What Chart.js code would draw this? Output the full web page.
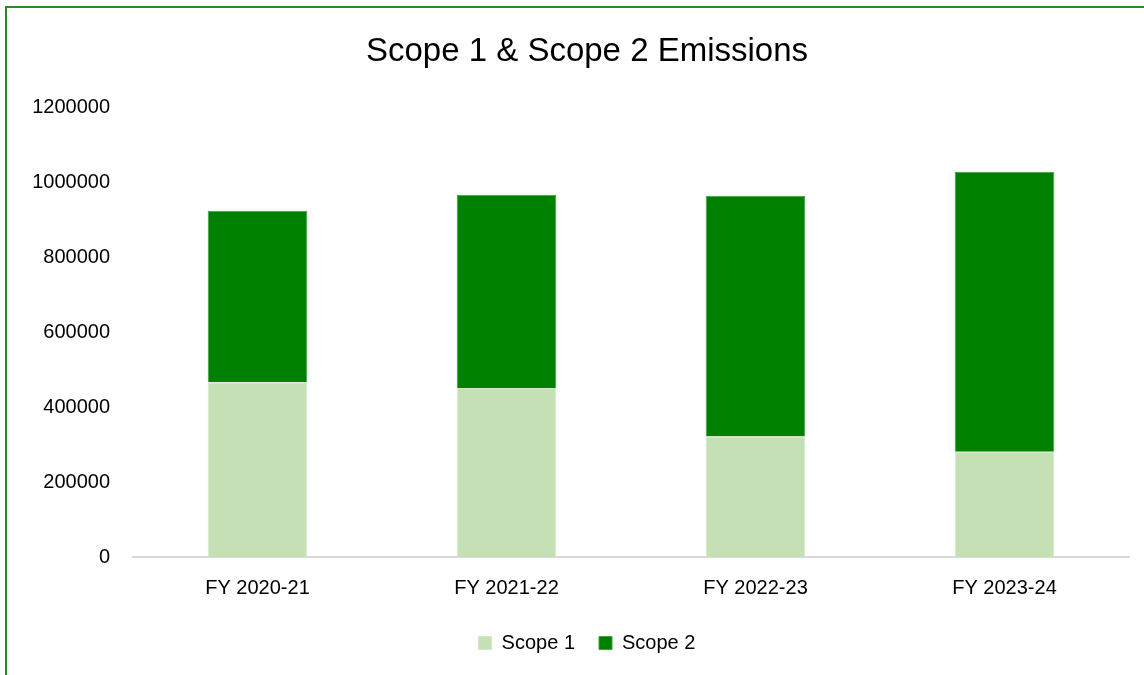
<!DOCTYPE html>
<html lang="en">
<head>
<meta charset="UTF-8">
<title>Scope 1 & Scope 2 Emissions</title>
<style>
  html, body { margin: 0; padding: 0; background: #ffffff; overflow: hidden; width: 1144px; height: 675px; }
  .frame { position: absolute; left: 5px; top: 6px; width: 1160px; height: 690px; border: 2px solid #2a8a2a; background: #ffffff; }
  .frame canvas { display: block; }
</style>
<script src="https://cdn.jsdelivr.net/npm/chart.js"></script>
</head>
<body>

<div class="frame">
  <canvas id="emissionsChart" width="1160" height="690"></canvas>
</div>

<script>
const years = ['FY 2020-21', 'FY 2021-22', 'FY 2022-23', 'FY 2023-24'];
const scope1 = [466700, 451500, 321900, 280800];
const scope2 = [457800, 515700, 642600, 747700];
const yMax = 1200000;
const yStep = 200000;

const font = 'Liberation Sans, Arial, sans-serif';

const ctx = document.getElementById('emissionsChart').getContext('2d');
new Chart(ctx, {
  type: 'bar',
  data: {
    labels: years,
    datasets: [
      {
        label: 'Scope 1',
        data: scope1,
        backgroundColor: '#c5e0b4',
        borderColor: '#d3e8c6',
        borderWidth: 1,
        categoryPercentage: 1,
        barPercentage: 0.4
      },
      {
        label: 'Scope 2',
        data: scope2,
        backgroundColor: '#008000',
        borderColor: '#3f9e3f',
        borderWidth: 1,
        categoryPercentage: 1,
        barPercentage: 0.4
      }
    ]
  },
  options: {
    responsive: false,
    animation: false,
    layout: { padding: { left: 0, right: 0, top: 0, bottom: 35 } },
    plugins: {
      title: {
        display: true,
        text: 'Scope 1 & Scope 2 Emissions',
        color: '#000000',
        font: { family: font, size: 33, weight: 'normal' },
        padding: { top: 24, bottom: 36 }
      },
      legend: {
        position: 'bottom',
        labels: {
          color: '#000000',
          font: { family: font, size: 20 },
          boxWidth: 13,
          boxHeight: 13,
          padding: 24
        }
      },
      tooltip: { enabled: false }
    },
    scales: {
      x: {
        stacked: true,
        grid: { display: false, drawTicks: false },
        border: { display: true, color: '#d9d9d9', width: 2 },
        ticks: { color: '#000000', font: { family: font, size: 20 }, padding: 19, maxRotation: 0 },
        afterFit: function(scale) { scale.height = 52; }
      },
      y: {
        stacked: true,
        min: 0,
        max: yMax,
        grid: { display: false, drawTicks: false },
        border: { display: false },
        ticks: { stepSize: yStep, color: '#000000', font: { family: font, size: 20 }, padding: 23,
          callback: function(v) { return String(v); } },
        afterFit: function(scale) { scale.width = 126; }
      },
      // empty right-hand spacer so title and legend stay centred on the whole frame
      spacer: {
        type: 'linear',
        position: 'right',
        grid: { display: false, drawTicks: false },
        border: { display: false },
        ticks: { display: false },
        afterFit: function(scale) { scale.width = 38; }
      }
    }
  }
});
</script>

</body>
</html>
